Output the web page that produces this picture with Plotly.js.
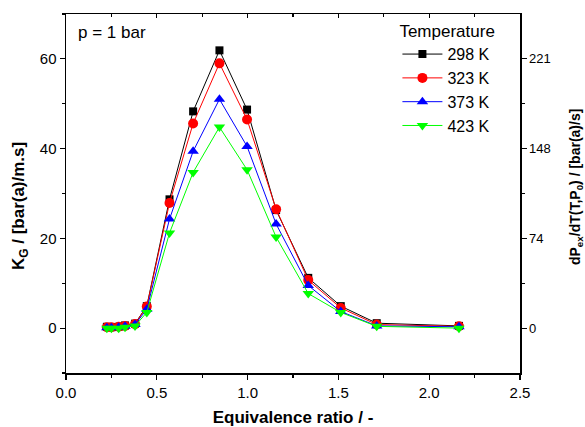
<!DOCTYPE html>
<html>
<head>
<meta charset="utf-8">
<script src="https://cdn.plot.ly/plotly-3.0.1.min.js"></script>
<style>html,body{margin:0;padding:0;background:#fff}#chart{width:585px;height:427px}</style>
</head>
<body>
<div id="chart"></div>
<script>
const phi = [0.225, 0.25, 0.29, 0.325, 0.38, 0.445, 0.57, 0.70, 0.845, 0.997, 1.157, 1.334, 1.513, 1.711, 2.164];
const kg298 = [0.3, 0.2, 0.3, 0.6, 1.0, 4.9, 28.7, 48.3, 61.9, 48.7, 26.3, 11.2, 4.9, 1.1, 0.5];
const kg323 = [0.2, 0.2, 0.3, 0.5, 0.9, 4.8, 27.9, 45.6, 59.0, 46.5, 26.5, 10.7, 4.5, 0.8, 0.4];
const kg373 = [0.1, 0.1, 0.2, 0.4, 0.8, 4.2, 24.3, 39.4, 51.0, 40.5, 23.2, 9.5, 3.7, 0.5, 0.3];
const kg423 = [0.0, 0.0, 0.0, 0.2, 0.5, 3.5, 21.2, 34.7, 44.8, 35.3, 20.3, 7.7, 3.5, 0.4, 0.0];
const seriesNames = ['298 K', '323 K', '373 K', '423 K'];
const rightTickVals = [0, 20, 40, 60];
const rightTickText = ['0', '74', '148', '221'];

const colors = ['#000000', '#ff0000', '#0000ff', '#00ff00'];
const symbols = ['square', 'circle', 'triangle-up', 'triangle-down'];
const sizes = [8, 10, 10, 10];
const all = [kg298, kg323, kg373, kg423];

const traces = all.map((ys, i) => ({
  x: phi, y: ys, type: 'scatter', mode: 'lines+markers', name: seriesNames[i],
  line: {color: colors[i], width: 1},
  marker: {color: colors[i], symbol: symbols[i], size: sizes[i]},
  cliponaxis: false
}));
// invisible carrier for right and top axes
traces.push({x: [phi[0]], y: [kg298[0]], xaxis: 'x2', yaxis: 'y2', mode: 'markers', marker: {opacity: 0}, showlegend: false, hoverinfo: 'skip'});

const font = {family: 'Liberation Sans, Arial, sans-serif', color: '#000'};
const layout = {
  width: 585, height: 427,
  margin: {l: 66, r: 65, t: 14, b: 54},
  paper_bgcolor: '#fff', plot_bgcolor: '#fff',
  font: Object.assign({size: 15}, font),
  showlegend: true,
  legend: {
    x: 0.73, y: 0.997, xanchor: 'left', yanchor: 'top',
    title: {text: 'Temperature', font: {size: 17}},
    font: {size: 16}, bgcolor: 'rgba(0,0,0,0)', tracegroupgap: 0, itemwidth: 40
  },
  xaxis: {
    range: [0, 2.5], dtick: 0.5, tick0: 0, tickformat: '.1f',
    showgrid: false, zeroline: false, showline: true, linecolor: '#000', linewidth: 1.5,
    ticks: 'outside', ticklen: 5, tickwidth: 1.2, tickcolor: '#000',
    minor: {dtick: 0.25, ticks: 'outside', ticklen: 3, tickwidth: 1.2, tickcolor: '#000', showgrid: false},
    tickfont: {size: 15},
    title: {text: 'Equivalence ratio / -', font: {size: 17, weight: 'bold'}, standoff: 12}
  },
  xaxis2: {
    overlaying: 'x', side: 'top', range: [0, 2.5], dtick: 0.5, tick0: 0,
    showgrid: false, zeroline: false, showline: true, linecolor: '#000', linewidth: 1.5,
    ticks: 'inside', ticklen: 4, tickwidth: 1.2, tickcolor: '#000', showticklabels: false,
    minor: {dtick: 0.25, ticks: 'inside', ticklen: 3, tickwidth: 1.2, tickcolor: '#000', showgrid: false}
  },
  yaxis: {
    range: [-10, 70], dtick: 20, tick0: 0,
    showgrid: false, zeroline: false, showline: true, linecolor: '#000', linewidth: 1.5,
    ticks: 'outside', ticklen: 5, tickwidth: 1.2, tickcolor: '#000',
    minor: {dtick: 10, ticks: 'outside', ticklen: 3, tickwidth: 1.2, tickcolor: '#000', showgrid: false},
    tickfont: {size: 15}
  },
  yaxis2: {
    overlaying: 'y', side: 'right', range: [-10, 70],
    tickmode: 'array', tickvals: rightTickVals, ticktext: rightTickText,
    showgrid: false, zeroline: false, showline: true, linecolor: '#000', linewidth: 1.5,
    ticks: 'outside', ticklen: 5, tickwidth: 1.2, tickcolor: '#000',
    minor: {tickvals: [10, 30, 50], ticks: 'outside', ticklen: 3, tickwidth: 1.2, tickcolor: '#000', showgrid: false},
    tickfont: {size: 13}
  },
  annotations: [
    {text: 'p = 1 bar', xref: 'paper', yref: 'paper', x: 0.022, y: 0.98,
     xanchor: 'left', yanchor: 'top', showarrow: false, font: {size: 17}},
    {text: '<b>K<sub>G</sub> / [bar(a)/m.s]</b>', xref: 'paper', yref: 'paper', x: -0.1013, y: 0.465,
     xanchor: 'center', yanchor: 'middle', textangle: -90, showarrow: false, font: {size: 17}},
    {text: '<b>dP<sub>ex</sub>/dT(T,P<sub>0</sub>) / [bar(a)/s]</b>', xref: 'paper', yref: 'paper', x: 1.1233, y: 0.518,
     xanchor: 'center', yanchor: 'middle', textangle: -90, showarrow: false, font: {size: 14}}
  ]
};
Plotly.newPlot('chart', traces, layout, {displayModeBar: false, staticPlot: true});
</script>
</body>
</html>
